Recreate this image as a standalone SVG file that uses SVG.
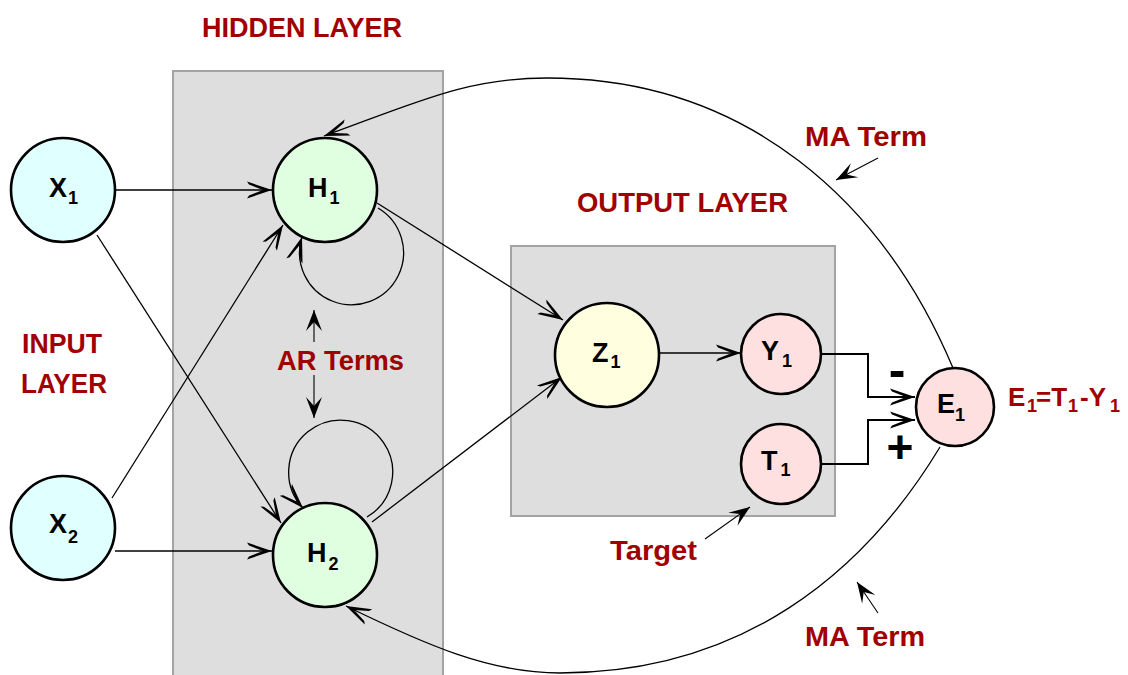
<svg xmlns="http://www.w3.org/2000/svg" width="1128" height="675" viewBox="0 0 1128 675">
  <style>
    .layer { fill: #dedede; stroke: #a3a3a3; stroke-width: 2; }
    .node { stroke: #000; stroke-width: 2.6; }
    .in { fill: #e0ffff; }
    .hid { fill: #e0ffe0; }
    .sum { fill: #ffffe0; }
    .out { fill: #ffe0e0; }
    .lbl { font-family: "Liberation Sans", Arial, sans-serif; font-weight: bold; font-size: 27px; fill: #000; }
    .sub { font-size: 18px; }
    .cap { font-family: "Liberation Sans", Arial, sans-serif; font-weight: bold; font-size: 27px; fill: #a00000; }
    .eq { font-size: 26px; }
    .wire { fill: none; stroke: #000; stroke-width: 1.3; }
    .bus { fill: none; stroke: #000; stroke-width: 2; }
    .note { fill: none; stroke: #000; stroke-width: 1.1; }
    .sign { font-family: "Liberation Sans", Arial, sans-serif; font-weight: bold; fill: #000; }
  </style>
  <defs>
    <marker id="ah" viewBox="-27 -10 29 20" refX="0" refY="0" markerWidth="29" markerHeight="20" markerUnits="userSpaceOnUse" orient="auto">
      <path d="M0,0 L-25,-8.5 L-23,-5.6 L-9,0 L-23,5.6 L-25,8.5 Z" fill="#000"/>
    </marker>
    <marker id="ahs" viewBox="-24 -10 26 20" refX="0" refY="0" markerWidth="26" markerHeight="20" markerUnits="userSpaceOnUse" orient="auto">
      <path d="M0,0 L-21,-8 L-12,0 L-21,8 Z" fill="#000"/>
    </marker>
  </defs>

  <rect width="1128" height="675" fill="#fff"/>

  <!-- layer panels -->
  <rect class="layer" x="173" y="71" width="270" height="615"/>
  <rect class="layer" x="511" y="246" width="324" height="270"/>

  <!-- captions -->
  <g id="captions">
    <text class="cap" x="202" y="37" textLength="200" lengthAdjust="spacingAndGlyphs">HIDDEN LAYER</text>
    <text class="cap" x="22" y="353" textLength="80" lengthAdjust="spacingAndGlyphs">INPUT</text>
    <text class="cap" x="21" y="393" textLength="86" lengthAdjust="spacingAndGlyphs">LAYER</text>
    <text class="cap" x="277" y="370" textLength="127" lengthAdjust="spacingAndGlyphs">AR Terms</text>
    <text class="cap" x="577" y="212" textLength="211" lengthAdjust="spacingAndGlyphs">OUTPUT LAYER</text>
    <text class="cap" x="805" y="146" textLength="122" lengthAdjust="spacingAndGlyphs">MA Term</text>
    <text class="cap" x="805" y="646" textLength="120" lengthAdjust="spacingAndGlyphs">MA Term</text>
    <text class="cap" x="610" y="560" textLength="87" lengthAdjust="spacingAndGlyphs">Target</text>
    <text class="cap eq" x="1008" y="406">E<tspan class="sub" x="1027" dy="6">1</tspan><tspan x="1036" dy="-6">=T</tspan><tspan class="sub" x="1068" dy="6">1</tspan><tspan x="1080" dy="-6">-Y</tspan><tspan class="sub" x="1110" dy="6">1</tspan></text>
    <text class="sign" x="897" y="387" font-size="50" text-anchor="middle">-</text>
    <text class="sign" x="900" y="463" font-size="46" text-anchor="middle">+</text>
  </g>

  <!-- connectors -->
  <g id="connectors">
    <path class="wire" d="M116,190 L272,190" marker-end="url(#ah)"/>
    <path class="wire" d="M115,551 L272,551" marker-end="url(#ah)"/>
    <path class="wire" d="M97,235 L281,523" marker-end="url(#ah)"/>
    <path class="wire" d="M112,498 L283,225" marker-end="url(#ah)"/>
    <path class="wire" d="M378,208 A52,52 0 1,1 302,237" marker-end="url(#ah)"/>
    <path class="wire" d="M367,517 A52,52 0 1,0 303,508" marker-end="url(#ah)"/>
    <path class="wire" d="M377,203 L563,320" marker-end="url(#ah)"/>
    <path class="wire" d="M372,522 L562,377" marker-end="url(#ah)"/>
    <path class="wire" d="M659,353 L741,353" marker-end="url(#ah)"/>
    <path class="bus" d="M821,354 L868,354 L868,397 L915,397" marker-end="url(#ah)"/>
    <path class="bus" d="M821,464 L868,464 L868,420 L915,420" marker-end="url(#ah)"/>
    <!-- moving-average feedback from the error node -->
    <path class="wire" d="M953,368 C883,202 747,78 547,78 C467,78 418,102 324,136" marker-end="url(#ah)"/>
    <path class="wire" d="M940,447 C862,576 740,673 560,673 C490,673 426,645 346,606" marker-end="url(#ah)"/>
    <!-- pointer arrows -->
    <path class="note" d="M314,342 L314,310" marker-end="url(#ahs)"/>
    <path class="note" d="M314,375 L314,418" marker-end="url(#ahs)"/>
    <path class="note" d="M878,158 L836,180" marker-end="url(#ahs)"/>
    <path class="note" d="M878,613 L857,582" marker-end="url(#ahs)"/>
    <path class="note" d="M705,539 L750,507" marker-end="url(#ahs)"/>
  </g>

  <!-- nodes -->
  <g id="node-x1">
    <circle class="node in" cx="63" cy="190" r="52"/>
    <text class="lbl" x="49" y="197">X<tspan class="sub" dx="1" dy="7">1</tspan></text>
  </g>
  <g id="node-x2">
    <circle class="node in" cx="63" cy="528" r="52"/>
    <text class="lbl" x="49" y="533">X<tspan class="sub" dx="1" dy="10">2</tspan></text>
  </g>
  <g id="node-h1">
    <circle class="node hid" cx="325" cy="190" r="52"/>
    <text class="lbl" x="308" y="197">H<tspan class="sub" dx="2" dy="7">1</tspan></text>
  </g>
  <g id="node-h2">
    <circle class="node hid" cx="325" cy="555" r="52"/>
    <text class="lbl" x="307" y="562">H<tspan class="sub" dx="2" dy="8">2</tspan></text>
  </g>
  <g id="node-z1">
    <circle class="node sum" cx="607" cy="355" r="52"/>
    <text class="lbl" x="592" y="362">Z<tspan class="sub" dx="2" dy="6">1</tspan></text>
  </g>
  <g id="node-y1">
    <circle class="node out" cx="781" cy="354" r="40"/>
    <text class="lbl" x="761" y="360">Y<tspan class="sub" dx="3" dy="7">1</tspan></text>
  </g>
  <g id="node-t1">
    <circle class="node out" cx="781" cy="464" r="40"/>
    <text class="lbl" x="761" y="470">T<tspan class="sub" dx="3" dy="6">1</tspan></text>
  </g>
  <g id="node-e1">
    <circle class="node out" cx="955" cy="407" r="39"/>
    <text class="lbl" x="937" y="413">E<tspan class="sub" dx="0" dy="8">1</tspan></text>
  </g>
</svg>
